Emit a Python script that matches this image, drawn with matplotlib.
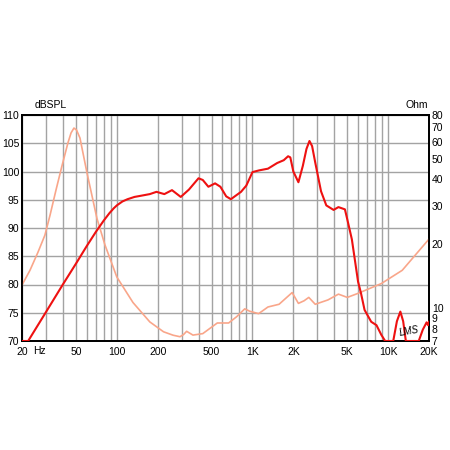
import matplotlib
matplotlib.use("Agg")
import matplotlib.pyplot as plt
from matplotlib.ticker import FixedLocator, FixedFormatter, NullFormatter, NullLocator

plt.rcParams['font.family'] = ['Liberation Sans', 'DejaVu Sans']

# SPL response (Hz, dB)
spl_freq = [20, 22.2, 30, 40, 50, 60, 70, 80, 88, 95, 100, 110, 120, 135, 150,
            175, 196, 224, 255, 296, 340, 400, 430, 473, 530, 580, 640, 693,
            760, 823, 900, 1000, 1120, 1300, 1520, 1700, 1830, 1900, 2000,
            2180, 2350, 2500, 2630, 2750, 2900, 3200, 3500, 3960, 4300, 4800,
            5000, 5400, 6000, 6300, 6700, 7500, 8200, 8900, 9500, 10900,
            11600, 12300, 12900, 13500, 16800, 18000, 19200, 19700, 20000]
spl_db = [70, 70, 75.1, 80.0, 83.7, 86.8, 89.3, 91.3, 92.6, 93.5, 94.0, 94.7,
          95.1, 95.5, 95.7, 96.0, 96.4, 96.0, 96.7, 95.5, 96.8, 98.8, 98.5,
          97.3, 97.9, 97.3, 95.6, 95.1, 95.8, 96.4, 97.5, 99.9, 100.2, 100.5,
          101.5, 102.0, 102.7, 102.5, 100.0, 98.1, 101.0, 104.0, 105.4, 104.5,
          101.6, 96.5, 94.0, 93.2, 93.7, 93.3, 91.5, 88.0, 80.5, 78.5, 75.5,
          73.4, 72.8, 71.1, 70, 70, 73.5, 75.2, 73.5, 70, 70, 72.0, 73.3,
          72.8, 73.4]

# Impedance (Hz, Ohm)
imp_freq = [20, 22.9, 26.2, 29.5, 32.2, 35.6, 39.4, 43.6, 46, 48.3, 50.5, 53.5,
            60.3, 71.3, 81.8, 100, 131.5, 175, 221, 260, 292, 310, 327, 364,
            430, 550, 667, 765, 877, 953, 1110, 1300, 1570, 1960, 2180, 2400,
            2600, 2900, 3600, 4300, 5000, 6000, 8900, 12700, 20000]
imp_ohm = [12.8, 15.0, 18.2, 21.9, 27.2, 35.6, 46.2, 59.2, 66.0, 69.5, 68.0,
           62.4, 42.8, 26.3, 19.7, 13.95, 10.6, 8.6, 7.73, 7.45, 7.33, 7.5,
           7.77, 7.46, 7.58, 8.5, 8.5, 9.1, 9.9, 9.65, 9.4, 10.1, 10.4, 11.8,
           10.5, 10.8, 11.2, 10.4, 10.9, 11.6, 11.2, 11.7, 13.0, 15.0, 21.0]

x_tick_vals = [20, 50, 100, 200, 500, 1000, 2000, 5000, 10000, 20000]
x_tick_labels = ['20', '50', '100', '200', '500', '1K', '2K', '5K', '10K', '20K']
db_ticks = [70, 75, 80, 85, 90, 95, 100, 105, 110]
ohm_ticks = [7, 8, 9, 10, 20, 30, 40, 50, 60, 70, 80]

RED = '#ee1111'
SALMON = '#f9a68a'
GRID = '#a3a3a3'
FS = 7.5

fig = plt.figure(figsize=(4.5, 4.5), dpi=100)
ax = fig.add_axes([22/450, 1-341/450, 407/450, 226/450])
ax.set_xscale('log')
ax.set_xlim(20, 20000)
ax.set_ylim(70, 110)

grid_x = [m * 10**d for d in range(1, 5) for m in range(1, 10)]
grid_x = [g for g in grid_x if 20 <= g <= 20000]
for g in grid_x:
    ax.axvline(g, color=GRID, lw=1.0, zorder=0)
for v in db_ticks:
    ax.axhline(v, color=GRID, lw=1.0, zorder=0)
for s in ax.spines.values():
    s.set_linewidth(1.3)
    s.set_color('black')

ax2 = ax.twinx()
ax2.set_yscale('log')
ax2.set_ylim(7, 80)
ax2.yaxis.set_major_locator(FixedLocator(ohm_ticks))
ax2.yaxis.set_major_formatter(FixedFormatter([str(v) for v in ohm_ticks]))
ax2.yaxis.set_minor_locator(NullLocator())
ax2.yaxis.set_minor_formatter(NullFormatter())
ax2.tick_params(axis='y', length=0, labelsize=FS, pad=2)
ax2.plot(imp_freq, imp_ohm, color=SALMON, lw=1.2)
for s in ax2.spines.values():
    s.set_linewidth(1.3)

ax3 = ax.twinx()
ax3.set_ylim(70, 110)
ax3.axis('off')
ax3.plot(spl_freq, spl_db, color=RED, lw=1.5)

# x ticks (set after twins so they are not reset)
ax.set_xlim(20, 20000)
ax.xaxis.set_major_locator(FixedLocator(x_tick_vals))
ax.xaxis.set_major_formatter(FixedFormatter(x_tick_labels))
ax.xaxis.set_minor_locator(NullLocator())
ax.xaxis.set_minor_formatter(NullFormatter())
ax.yaxis.set_major_locator(FixedLocator(db_ticks))
ax.yaxis.set_major_formatter(FixedFormatter([str(v) for v in db_ticks]))
ax.tick_params(axis='both', length=0, labelsize=FS, colors='black')
ax.tick_params(axis='x', pad=4.5)
ax.tick_params(axis='y', pad=2)

fig.text(35/450, 1-105/450, 'dBSPL', fontsize=FS, ha='left', va='center')
fig.text(428/450, 1-105/450, 'Ohm', fontsize=FS, ha='right', va='center')
fig.text(33/450, 1-351.5/450, 'Hz', fontsize=FS, ha='left', va='center')
fig.text(409/450, 1-331/450, 'LMS', fontsize=7, style='italic', ha='center',
         va='center', rotation=10)

fig.savefig('out.png', dpi=100)
